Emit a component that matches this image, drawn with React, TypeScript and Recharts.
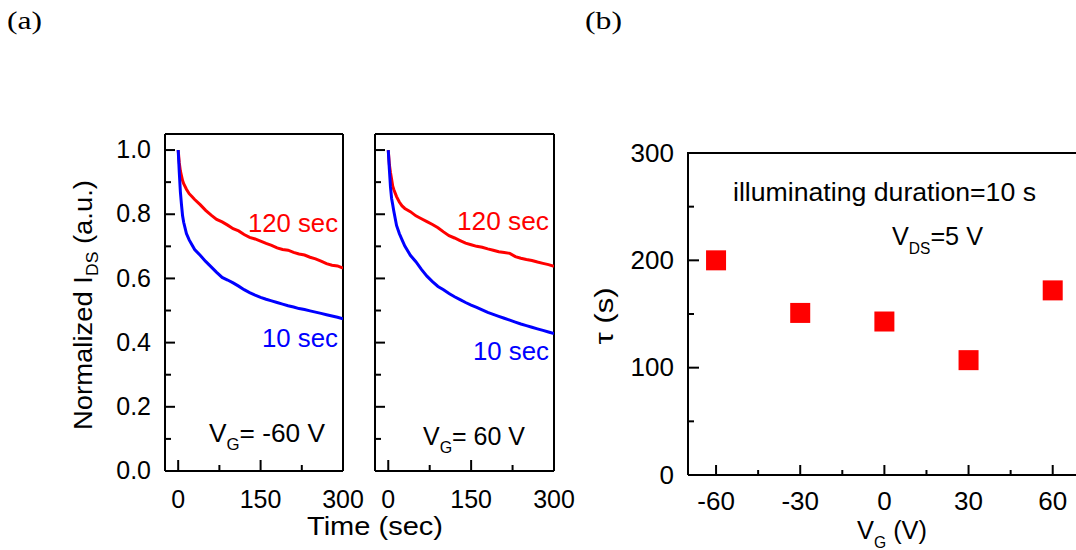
import { LineChart, Line, XAxis, YAxis, ReferenceLine } from 'recharts';

// decay curves, time in seconds
const timeSec = [0, 2, 4, 6, 8, 10, 15, 20, 25, 30, 40, 50, 60, 70, 80, 90, 100, 110, 120, 130, 140, 150, 160, 170, 180, 190, 200, 210, 220, 230, 240, 250, 260, 270, 280, 290, 300];
const negRed = [1.0, 0.96, 0.935, 0.92, 0.905, 0.895, 0.878, 0.864, 0.855, 0.846, 0.83, 0.812, 0.797, 0.784, 0.776, 0.766, 0.755, 0.748, 0.737, 0.728, 0.723, 0.716, 0.709, 0.703, 0.695, 0.69, 0.688, 0.681, 0.676, 0.673, 0.666, 0.661, 0.654, 0.646, 0.641, 0.639, 0.632];
const negBlue = [1.0, 0.93, 0.87, 0.83, 0.795, 0.775, 0.74, 0.72, 0.705, 0.69, 0.672, 0.653, 0.636, 0.619, 0.603, 0.595, 0.586, 0.576, 0.565, 0.556, 0.548, 0.541, 0.535, 0.53, 0.525, 0.52, 0.515, 0.511, 0.506, 0.503, 0.499, 0.495, 0.491, 0.487, 0.483, 0.479, 0.474];
const posRed = [1.0, 0.955, 0.93, 0.91, 0.888, 0.877, 0.855, 0.838, 0.826, 0.818, 0.808, 0.795, 0.786, 0.777, 0.768, 0.758, 0.745, 0.733, 0.726, 0.718, 0.71, 0.705, 0.7, 0.697, 0.692, 0.688, 0.683, 0.681, 0.678, 0.668, 0.663, 0.659, 0.656, 0.651, 0.647, 0.643, 0.638];
const posBlue = [1.0, 0.94, 0.885, 0.85, 0.83, 0.81, 0.765, 0.74, 0.72, 0.701, 0.672, 0.652, 0.628, 0.607, 0.59, 0.575, 0.565, 0.553, 0.543, 0.534, 0.525, 0.517, 0.51, 0.502, 0.494, 0.488, 0.482, 0.476, 0.47, 0.464, 0.458, 0.453, 0.448, 0.443, 0.438, 0.433, 0.428];

// tau vs gate voltage
const gateVoltage = [-60, -30, 0, 30, 60];
const tauSec = [200, 151, 143, 107, 172];

const timeTicks = [0, 75, 150, 225, 300];
const timeMajor = [0, 150, 300];
const currentTicks = [0, 0.1, 0.2, 0.3, 0.4, 0.5, 0.6, 0.7, 0.8, 0.9, 1.0];
const currentMajor = [0, 0.2, 0.4, 0.6, 0.8, 1.0];
const gateTicks = [-60, -45, -30, -15, 0, 15, 30, 45, 60];
const gateMajor = [-60, -30, 0, 30, 60];
const tauTicks = [0, 50, 100, 150, 200, 250, 300];
const tauMajor = [0, 100, 200, 300];

const negData = timeSec.map((t, i) => ({ t, red: negRed[i], blue: negBlue[i] }));
const posData = timeSec.map((t, i) => ({ t, red: posRed[i], blue: posBlue[i] }));
const tauData = gateVoltage.map((vg, i) => ({ vg, tau: tauSec[i] }));

const FONT = '"Liberation Sans", Arial, sans-serif';
const RED = '#ff0000';
const BLUE = '#0000ff';

function BottomTick(props: any) {
  const { x, y, payload, majors, labels, fontSize, labelDy, majorLen, minorLen } = props;
  const major = majors.some((m: number) => Math.abs(m - payload.value) < 1e-6);
  return (
    <g>
      <line x1={x} x2={x} y1={y} y2={y - (major ? majorLen : minorLen)} stroke="#000" strokeWidth={2} />
      {major && labels && (
        <text x={x} y={y + labelDy} textAnchor="middle" fontSize={fontSize} fontFamily={FONT} fill="#000">
          {payload.value}
        </text>
      )}
    </g>
  );
}

function LeftTick(props: any) {
  const { x, y, payload, majors, labels, fontSize, digits, majorLen, minorLen } = props;
  const major = majors.some((m: number) => Math.abs(m - payload.value) < 1e-6);
  return (
    <g>
      <line x1={x} x2={x + (major ? majorLen : minorLen)} y1={y} y2={y} stroke="#000" strokeWidth={2} />
      {major && labels && (
        <text x={x - 14} y={y + fontSize * 0.33} textAnchor="end" fontSize={fontSize} fontFamily={FONT} fill="#000">
          {payload.value.toFixed(digits)}
        </text>
      )}
    </g>
  );
}

function SquareMark(props: any) {
  const { cx, cy } = props;
  if (cx == null || cy == null) return null;
  return <rect x={cx - 10} y={cy - 10} width={20} height={20} fill={RED} />;
}

const axisStyle = { stroke: '#000', strokeWidth: 2 };

function DecayPanel({ data, showY, width }: { data: any[]; showY: boolean; width: number }) {
  return (
    <LineChart width={width} height={411} data={data} margin={{ top: 14, right: 26, bottom: 0, left: 0 }}>
      <XAxis
        dataKey="t"
        type="number"
        domain={[-24, 300]}
        ticks={timeTicks}
        interval={0}
        allowDataOverflow
        height={60}
        tickSize={0}
        tickMargin={0}
        tickLine={false}
        axisLine={axisStyle}
        tick={<BottomTick majors={timeMajor} labels fontSize={25} labelDy={37} majorLen={11} minorLen={6} />}
      />
      <YAxis
        type="number"
        domain={[0, 1.05]}
        ticks={currentTicks}
        interval={0}
        allowDataOverflow
        width={showY ? 65 : 15}
        tickSize={0}
        tickMargin={0}
        tickLine={false}
        axisLine={axisStyle}
        tick={<LeftTick majors={currentMajor} labels={showY} fontSize={25} digits={1} majorLen={10} minorLen={6} />}
      />
      <ReferenceLine y={1.05} stroke="#000" strokeWidth={2} ifOverflow="visible" />
      <ReferenceLine x={300} stroke="#000" strokeWidth={2} ifOverflow="visible" />
      <Line dataKey="red" type="linear" stroke={RED} strokeWidth={3} dot={false} isAnimationActive={false} />
      <Line dataKey="blue" type="linear" stroke={BLUE} strokeWidth={3} dot={false} isAnimationActive={false} />
    </LineChart>
  );
}

export default function App() {
  return (
    <div
      style={{
        position: 'fixed',
        left: 0,
        top: 0,
        width: 1076,
        height: 550,
        overflow: 'hidden',
        background: '#fff',
        fontFamily: FONT,
      }}
    >
      <div style={{ position: 'absolute', left: 100, top: 120 }}>
        <DecayPanel data={negData} showY width={269} />
      </div>
      <div style={{ position: 'absolute', left: 360, top: 120 }}>
        <DecayPanel data={posData} showY={false} width={220} />
      </div>
      <div style={{ position: 'absolute', left: 620, top: 123 }}>
        {/* right frame edge lies just outside the picture, so the plot stops at the page edge */}
        <LineChart width={456} height={412} data={tauData} margin={{ top: 30, right: 0, bottom: 0, left: 0 }}>
          <XAxis
            dataKey="vg"
            type="number"
            domain={[-70, 68.3]}
            ticks={gateTicks}
            interval={0}
            allowDataOverflow
            height={60}
            tickSize={0}
            tickMargin={0}
            tickLine={false}
            axisLine={axisStyle}
            tick={<BottomTick majors={gateMajor} labels fontSize={26} labelDy={35} majorLen={10} minorLen={5} />}
          />
          <YAxis
            type="number"
            domain={[0, 300]}
            ticks={tauTicks}
            interval={0}
            allowDataOverflow
            width={68}
            tickSize={0}
            tickMargin={0}
            tickLine={false}
            axisLine={axisStyle}
            tick={<LeftTick majors={tauMajor} labels fontSize={26} digits={0} majorLen={11} minorLen={6} />}
          />
          <ReferenceLine y={300} stroke="#000" strokeWidth={2} ifOverflow="visible" />
          <Line
            dataKey="tau"
            type="linear"
            stroke="none"
            dot={<SquareMark />}
            activeDot={false}
            isAnimationActive={false}
          />
        </LineChart>
      </div>

      <svg width={1076} height={550} style={{ position: 'absolute', left: 0, top: 0, pointerEvents: 'none' }}>
        {/* top frame edge of panel (b) */}
        <line x1={687} x2={1076} y1={153} y2={153} stroke="#000" strokeWidth={2} />
        <g fontFamily='"Liberation Serif", "Times New Roman", serif' fontSize={25} fill="#000">
          <text x={7} y={29} textLength={35} lengthAdjust="spacingAndGlyphs">(a)</text>
          <text x={585} y={29} textLength={37} lengthAdjust="spacingAndGlyphs">(b)</text>
        </g>
        <g fontFamily={FONT} fontSize={25} fill="#000">
          <text x={92} y={305} textAnchor="middle" transform="rotate(-90 92 305)" textLength={250} lengthAdjust="spacingAndGlyphs">
            Normalized I<tspan fontSize={16} dy={6}>DS</tspan>
            <tspan dy={-6}>{' (a.u.)'}</tspan>
          </text>
          <text x={375} y={535} textAnchor="middle" textLength={136} lengthAdjust="spacingAndGlyphs">Time (sec)</text>
          <text x={338} y={232} textAnchor="end" fill={RED} textLength={90} lengthAdjust="spacingAndGlyphs">120 sec</text>
          <text x={338} y={347} textAnchor="end" fill={BLUE} textLength={76} lengthAdjust="spacingAndGlyphs">10 sec</text>
          <text x={549} y={230} textAnchor="end" fill={RED} textLength={92} lengthAdjust="spacingAndGlyphs">120 sec</text>
          <text x={549} y={360} textAnchor="end" fill={BLUE} textLength={76} lengthAdjust="spacingAndGlyphs">10 sec</text>
          <text x={209} y={442} textLength={116} lengthAdjust="spacingAndGlyphs">
            V<tspan fontSize={16} dy={8}>G</tspan>
            <tspan dy={-8}>{'= -60 V'}</tspan>
          </text>
          <text x={423} y={445} textLength={102} lengthAdjust="spacingAndGlyphs">
            V<tspan fontSize={16} dy={8}>G</tspan>
            <tspan dy={-8}>{'= 60 V'}</tspan>
          </text>
        </g>
        <g fontFamily={FONT} fontSize={26} fill="#000">
          <text x={613} y={316} textAnchor="middle" transform="rotate(-90 613 316)" textLength={57} lengthAdjust="spacingAndGlyphs">τ (s)</text>
          <text x={892} y={539} textAnchor="middle" textLength={70} lengthAdjust="spacingAndGlyphs">
            V<tspan fontSize={16} dy={9}>G</tspan>
            <tspan dy={-9}>{' (V)'}</tspan>
          </text>
          <text x={733} y={201} textLength={303} lengthAdjust="spacingAndGlyphs">illuminating duration=10 s</text>
          <text x={892} y={245} textLength={91} lengthAdjust="spacingAndGlyphs">
            V<tspan fontSize={16} dy={9}>DS</tspan>
            <tspan dy={-9}>{'=5 V'}</tspan>
          </text>
        </g>
      </svg>
    </div>
  );
}
